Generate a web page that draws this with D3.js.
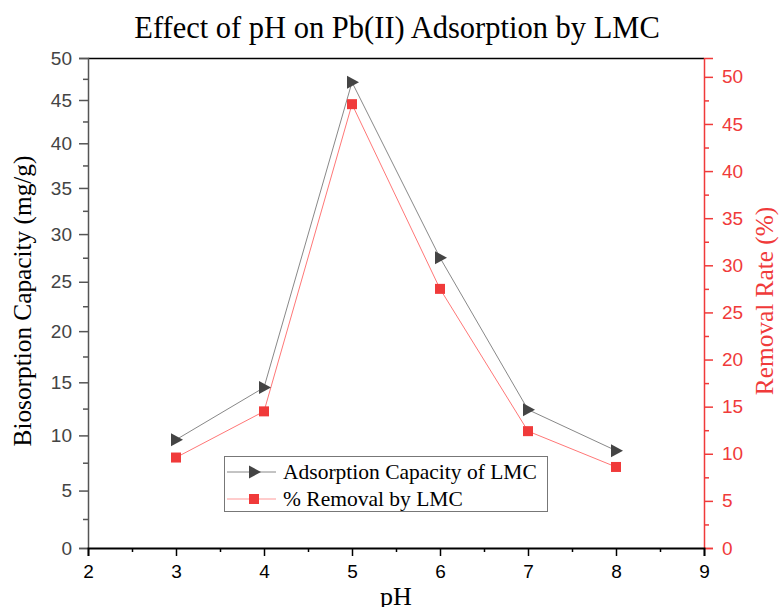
<!DOCTYPE html>
<html>
<head>
<meta charset="utf-8">
<script src="https://cdn.jsdelivr.net/npm/d3@7"></script>
<style>
  html, body { margin: 0; padding: 0; background: #fff; }
  svg { display: block; }
</style>
</head>
<body>
<svg id="chart" width="779" height="607"></svg>
<script>
// ---- Data ----
const pH = [3, 4, 5, 6, 7, 8];
const capacity = [9.6, 14.5, 47.1, 27.5, 12.4, 8.6];   // mg/g (left axis)
const removal = [9.6, 14.5, 47.1, 27.5, 12.4, 8.6];    // % (right axis)
const xTicks = [2, 3, 4, 5, 6, 7, 8, 9];
const xMinor = [2.5, 3.5, 4.5, 5.5, 6.5, 7.5, 8.5];
const leftTicks = [0, 5, 10, 15, 20, 25, 30, 35, 40, 45, 50];
const leftMinor = [2.5, 7.5, 12.5, 17.5, 22.5, 27.5, 32.5, 37.5, 42.5, 47.5];
const rightTicks = [0, 5, 10, 15, 20, 25, 30, 35, 40, 45, 50];
const rightMinor = [2.5, 7.5, 12.5, 17.5, 22.5, 27.5, 32.5, 37.5, 42.5, 47.5];
const seriesNames = ["Adsorption Capacity of LMC", "% Removal by LMC"];

const svg = d3.select("#chart");
const L = 88, R = 704, T = 58, B = 548;
const sans = "'Liberation Sans', Arial, sans-serif";
const serif = "'Liberation Serif', 'Times New Roman', serif";
const red = "#f03a3a";

const x = d3.scaleLinear().domain([2, 9]).range([L, R]);
const yL = d3.scaleSymlog().constant(120).domain([0, 50]).range([B, T]);
const yR = d3.scaleLinear().domain([0, 52]).range([B, T]);

// top frame line
svg.append("line").attr("x1", L).attr("x2", R).attr("y1", T + 0.5).attr("y2", T + 0.5)
  .attr("stroke", "#000").attr("stroke-width", 1.5);

function styleAxis(g, color, fontColor) {
  g.selectAll("path.domain").attr("stroke", color).attr("stroke-width", 1.5);
  g.selectAll(".tick line").attr("stroke", color).attr("stroke-width", 1.5);
  g.selectAll(".tick text").attr("fill", fontColor).style("font-family", sans).style("font-size", "19px");
}

// left axis
const gL = svg.append("g").attr("transform", `translate(${L},0)`);
gL.call(d3.axisLeft(yL).tickValues(leftTicks).tickSize(9).tickPadding(7).tickFormat(d3.format("d")));
styleAxis(gL, "#555", "#444");
const gLm = svg.append("g").attr("transform", `translate(${L},0)`);
gLm.call(d3.axisLeft(yL).tickValues(leftMinor).tickSize(5).tickFormat(""));
styleAxis(gLm, "#555", "#444");
gLm.select("path.domain").remove();

// right axis
const gR = svg.append("g").attr("transform", `translate(${R},0)`);
gR.call(d3.axisRight(yR).tickValues(rightTicks).tickSize(9).tickPadding(9).tickFormat(d3.format("d")));
styleAxis(gR, red, red);
const gRm = svg.append("g").attr("transform", `translate(${R},0)`);
gRm.call(d3.axisRight(yR).tickValues(rightMinor).tickSize(5).tickFormat(""));
styleAxis(gRm, red, red);
gRm.select("path.domain").remove();

// bottom axis
const gB = svg.append("g").attr("transform", `translate(0,${B})`);
gB.call(d3.axisBottom(x).tickValues(xTicks).tickSize(8).tickPadding(9).tickFormat(d3.format("d")));
styleAxis(gB, "#000", "#000");
gB.select("path.domain").attr("stroke-width", 1.8);
const gBm = svg.append("g").attr("transform", `translate(0,${B})`);
gBm.call(d3.axisBottom(x).tickValues(xMinor).tickSize(4).tickFormat(""));
styleAxis(gBm, "#000", "#000");
gBm.select("path.domain").remove();

// lines
const lineCap = d3.line().x((d, i) => x(pH[i])).y(d => yL(d));
const lineRem = d3.line().x((d, i) => x(pH[i])).y(d => yR(d));
svg.append("path").datum(capacity).attr("d", lineCap).attr("fill", "none")
  .attr("stroke", "#888").attr("stroke-width", 1);
svg.append("path").datum(removal).attr("d", lineRem).attr("fill", "none")
  .attr("stroke", "#f77").attr("stroke-width", 1);

// markers
const tri = (cx, cy) => `M${cx - 5},${cy - 6.5}L${cx + 7},${cy}L${cx - 5},${cy + 6.5}Z`;
svg.append("g").selectAll("path").data(capacity).join("path")
  .attr("d", (d, i) => tri(x(pH[i]), yL(d))).attr("fill", "#444");
svg.append("g").selectAll("rect").data(removal).join("rect")
  .attr("x", (d, i) => x(pH[i]) - 5).attr("y", d => yR(d) - 5)
  .attr("width", 10).attr("height", 10).attr("fill", red);

// title & axis titles
svg.append("text").attr("x", 397).attr("y", 38).attr("text-anchor", "middle")
  .style("font-family", serif).style("font-size", "30.5px").attr("fill", "#000")
  .text("Effect of pH on Pb(II) Adsorption by LMC");
svg.append("text").attr("transform", `translate(31,301) rotate(-90)`)
  .attr("text-anchor", "middle").style("font-family", serif).style("font-size", "25.3px")
  .attr("fill", "#000").text("Biosorption Capacity (mg/g)");
svg.append("text").attr("transform", `translate(773,301) rotate(-90)`)
  .attr("text-anchor", "middle").style("font-family", serif).style("font-size", "25.3px")
  .attr("fill", red).text("Removal Rate (%)");
svg.append("text").attr("x", (L + R) / 2).attr("y", 605).attr("text-anchor", "middle")
  .style("font-family", serif).style("font-size", "26px").attr("fill", "#000").text("pH");

// legend
const lg = svg.append("g");
lg.append("rect").attr("x", 224.5).attr("y", 456.5).attr("width", 323).attr("height", 55)
  .attr("fill", "#fff").attr("stroke", "#777").attr("stroke-width", 1);
const ly = [472, 499];
lg.append("line").attr("x1", 227).attr("x2", 276).attr("y1", ly[0]).attr("y2", ly[0]).attr("stroke", "#888");
lg.append("path").attr("d", tri(254, ly[0])).attr("fill", "#444");
lg.append("line").attr("x1", 227).attr("x2", 276).attr("y1", ly[1]).attr("y2", ly[1]).attr("stroke", "#f99");
lg.append("rect").attr("x", 249).attr("y", ly[1] - 5).attr("width", 10).attr("height", 10).attr("fill", red);
seriesNames.forEach((n, i) => {
  lg.append("text").attr("x", 283).attr("y", ly[i] + 7).style("font-family", serif)
    .style("font-size", "21.5px").attr("fill", "#000").text(n);
});
</script>
</body>
</html>
